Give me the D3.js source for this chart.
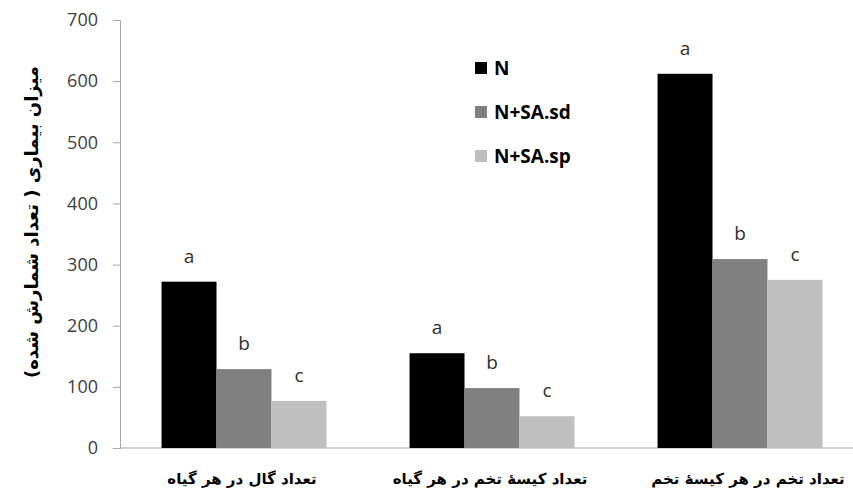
<!DOCTYPE html>
<html>
<head>
<meta charset="utf-8">
<script src="https://cdn.jsdelivr.net/npm/d3@7"></script>
<style>
  html, body { margin: 0; padding: 0; background: #fff; }
  svg { display: block; }
</style>
</head>
<body>
<svg id="chart" width="853" height="499"></svg>
<script>
// Categories (x axis), series names and values
const categories = ["تعداد گال در هر گیاه", "تعداد کیسهٔ تخم در هر گیاه", "تعداد تخم در هر کیسهٔ تخم"];
const seriesNames = ["N", "N+SA.sd", "N+SA.sp"];
const valuesN    = [272, 155, 612];
const valuesSD   = [129, 98, 309];
const valuesSP   = [77, 52, 275];
const lettersN   = ["a", "a", "a"];
const lettersSD  = ["b", "b", "b"];
const lettersSP  = ["c", "c", "c"];
const yTicks = [0, 100, 200, 300, 400, 500, 600, 700];
const yTitle = "میزان بیماری ( تعداد شمارش شده)";

const colors = ["#000000", "#808080", "#bfbfbf"];
const seriesValues = [valuesN, valuesSD, valuesSP];
const seriesLetters = [lettersN, lettersSD, lettersSP];

const svg = d3.select("#chart");
const margin = { left: 120, top: 20, bottom: 448 };
const plotRight = 120 + 3 * 248;

const x0 = d3.scaleBand().domain(categories).range([margin.left, plotRight]).paddingInner(0.335).paddingOuter(0.1675);
const x1 = d3.scaleBand().domain(seriesNames).range([0, x0.bandwidth()]);
const y = d3.scaleLinear().domain([0, 700]).range([margin.bottom, margin.top]);

// Y axis
const yAxis = svg.append("g")
  .attr("transform", `translate(${margin.left},0)`)
  .call(d3.axisLeft(y).tickValues(yTicks).tickSize(7).tickPadding(15));
yAxis.select(".domain").attr("stroke", "#a6a6a6");
yAxis.selectAll(".tick line").attr("stroke", "#a6a6a6");
yAxis.selectAll(".tick text")
  .attr("fill", "#404040")
  .style("font-family", "'Open Sans', sans-serif")
  .style("font-size", "18px");

// Baseline
svg.append("line")
  .attr("x1", margin.left).attr("x2", 853)
  .attr("y1", y(0)).attr("y2", y(0))
  .attr("stroke", "#a6a6a6");

// Bars and significance letters
categories.forEach((cat, ci) => {
  seriesNames.forEach((s, si) => {
    const v = seriesValues[si][ci];
    const bx = x0(cat) + x1(s);
    svg.append("rect")
      .attr("x", bx).attr("y", y(v))
      .attr("width", x1.bandwidth()).attr("height", y(0) - y(v))
      .attr("fill", colors[si]);
    svg.append("text")
      .attr("x", bx + x1.bandwidth() / 2)
      .attr("y", y(v) - 19)
      .attr("text-anchor", "middle")
      .attr("fill", "#303030")
      .style("font-family", "'Open Sans', sans-serif")
      .style("font-size", "19px")
      .text(seriesLetters[si][ci]);
  });
  svg.append("text")
    .attr("x", x0(cat) + x0.bandwidth() / 2 + (ci === 2 ? 8 : -2))
    .attr("y", 484)
    .attr("text-anchor", "middle")
    .attr("direction", "rtl")
    .attr("fill", "#000")
    .style("font-family", "'DejaVu Sans', sans-serif")
    .style("font-weight", "bold")
    .style("font-size", "15px")
    .text(cat);
});

// Legend
const legend = svg.append("g").attr("transform", "translate(475,0)");
seriesNames.forEach((s, i) => {
  const ly = 68 + i * 44;
  legend.append("rect").attr("x", 0).attr("y", ly - 6).attr("width", 12).attr("height", 12).attr("fill", colors[i]);
  legend.append("text")
    .attr("x", 19).attr("y", ly + 7)
    .attr("fill", "#000")
    .style("font-family", "'Open Sans', sans-serif")
    .style("font-weight", "bold")
    .style("font-size", "19px")
    .text(s);
});

// Y axis title
svg.append("text")
  .attr("transform", "translate(38,222) rotate(-90)")
  .attr("text-anchor", "middle")
  .attr("direction", "rtl")
  .attr("fill", "#000")
  .style("font-family", "'DejaVu Sans', sans-serif")
  .style("font-weight", "bold")
  .style("font-size", "18px")
  .text(yTitle);
</script>
</body>
</html>
